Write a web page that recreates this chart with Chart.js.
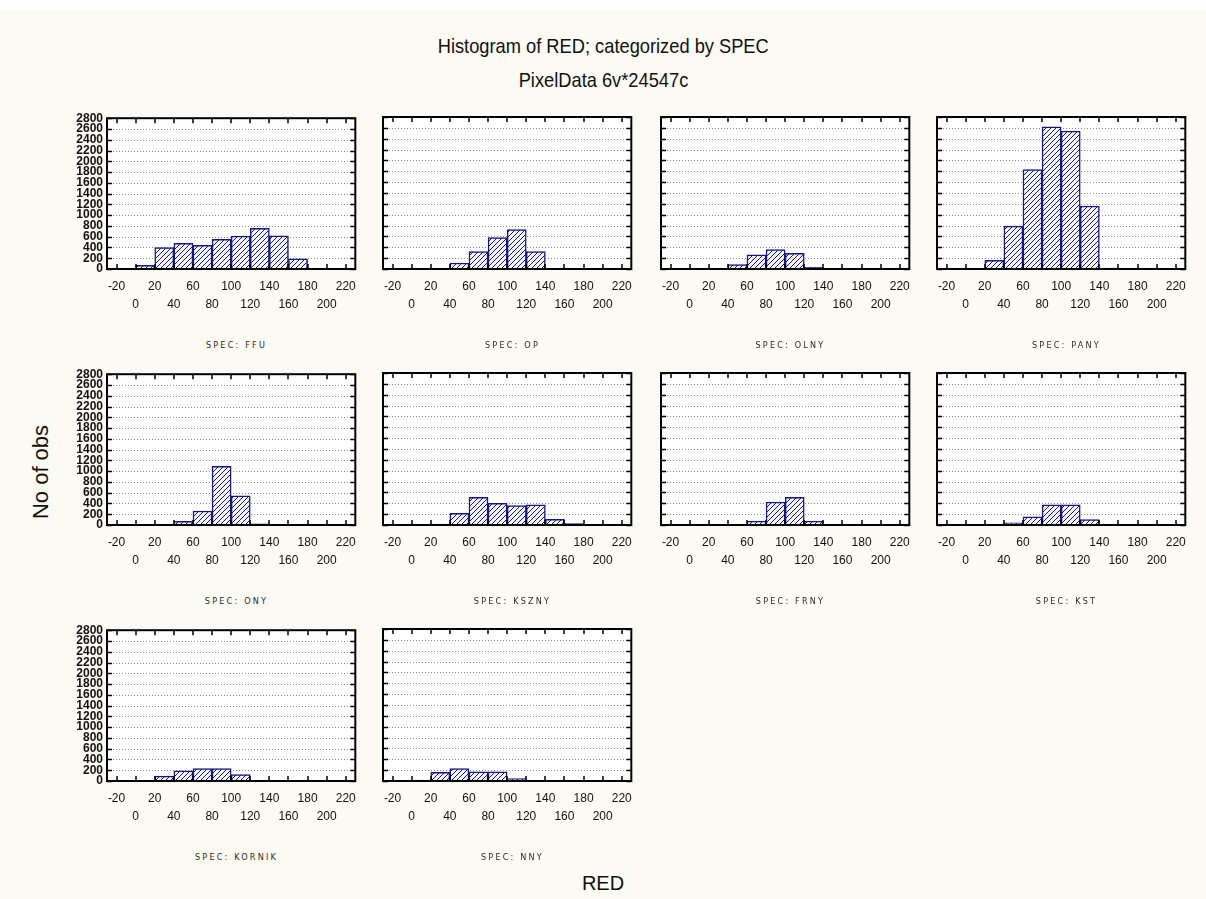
<!DOCTYPE html>
<html><head><meta charset="utf-8">
<script src="https://cdn.jsdelivr.net/npm/chart.js@4.4.0/dist/chart.umd.min.js"></script>
<style>
html,body{margin:0;padding:0;}
body{width:1206px;height:899px;background:#fbfaf3;position:relative;overflow:hidden;font-family:'Liberation Sans',Arial,sans-serif;}
.topband{position:absolute;left:0;top:0;width:1206px;height:10px;background:#ffffff;}
.t{position:absolute;left:0;width:1206px;text-align:center;color:#111;white-space:nowrap;}
.t span{display:inline-block;transform:scaleX(0.87);transform-origin:center;}
canvas{position:absolute;}
.lab{position:absolute;width:251px;text-align:center;font-family:'DejaVu Sans Condensed','DejaVu Sans',sans-serif;font-size:9px;letter-spacing:2.2px;color:#2a2a2a;}
.ytitle{position:absolute;left:41px;top:472px;transform:translate(-50%,-50%) rotate(-90deg);font-size:22px;color:#111;white-space:nowrap;}
</style></head><body>
<div class="topband"></div>
<div class="t" style="top:34px;font-size:21px;"><span>Histogram of RED; categorized by SPEC</span></div>
<div class="t" style="top:68px;font-size:21px;"><span>PixelData 6v*24547c</span></div>
<div class="ytitle">No of obs</div>
<div class="t" style="top:872px;font-size:20px;">RED</div>
<script>
// ---------------- data ----------------
const CATEGORIES = ['SPEC: FFU','SPEC: OP','SPEC: OLNY','SPEC: PANY','SPEC: ONY','SPEC: KSZNY','SPEC: FRNY','SPEC: KST','SPEC: KORNIK','SPEC: NNY'];
const BIN_CENTERS = [10, 30, 50, 70, 90, 110, 130, 150, 170, 190];   // bins of width 20 from 0 to 200
const FFU    = [70, 400, 475, 440, 550, 610, 755, 615, 190, 0];
const OP     = [0, 0, 110, 320, 580, 725, 320, 0, 0, 0];
const OLNY   = [0, 0, 80, 260, 360, 290, 30, 0, 0, 0];
const PANY   = [0, 160, 790, 1830, 2620, 2540, 1160, 15, 0, 0];
const ONY    = [0, 0, 70, 260, 1090, 540, 20, 0, 0, 0];
const KSZNY  = [0, 15, 215, 510, 400, 360, 370, 105, 25, 0];
const FRNY   = [0, 0, 0, 70, 420, 510, 70, 0, 0, 0];
const KST    = [0, 0, 40, 150, 370, 370, 100, 0, 0, 0];
const KORNIK = [0, 90, 190, 230, 230, 120, 0, 0, 0, 0];
const NNY    = [15, 160, 230, 170, 170, 45, 0, 0, 0, 0];
const SERIES = [FFU, OP, OLNY, PANY, ONY, KSZNY, FRNY, KST, KORNIK, NNY];
const X_TICKS = [-20, 0, 20, 40, 60, 80, 100, 120, 140, 160, 180, 200, 220];
const Y_TICKS = [0, 200, 400, 600, 800, 1000, 1200, 1400, 1600, 1800, 2000, 2200, 2400, 2600, 2800];
const X_RANGE = [-30, 230];
const Y_RANGE = [0, 2800];

// ---------------- layout ----------------
const COL_LEFT = [107, 383, 661, 937];
const ROW_TOP = [117, 373, 629];
const FRAME_W = 251, FRAME_H = 152;
const Y_AXIS_W = 50, PAD_TOP = 10, PAD_RIGHT = 6, X_AXIS_H = 56;
const NAVY = '#16167e';
const FONT = "'Liberation Sans Narrow','Liberation Sans',Arial,sans-serif";

function makePattern() {
  const s = 5;
  const c = document.createElement('canvas');
  c.width = s; c.height = s;
  const g = c.getContext('2d');
  g.fillStyle = '#f4f4fc';
  g.fillRect(0, 0, s, s);
  g.strokeStyle = NAVY;
  g.lineWidth = 1;
  g.beginPath();
  g.moveTo(-1, s + 1); g.lineTo(s + 1, -1);
  g.moveTo(-1, 1); g.lineTo(1, -1);
  g.moveTo(s - 1, s + 1); g.lineTo(s + 1, s - 1);
  g.stroke();
  return g.createPattern(c, 'repeat');
}

const framePlugin = {
  id: 'framePlugin',
  beforeDraw(chart) {
    const {ctx, chartArea: a} = chart;
    ctx.save();
    ctx.fillStyle = '#ffffff';
    ctx.fillRect(a.left, a.top, a.right - a.left, a.bottom - a.top);
    ctx.restore();
  },
  beforeDatasetsDraw(chart) {
    const {ctx, chartArea: a, scales: {y}} = chart;
    ctx.save();
    ctx.strokeStyle = '#8a8a8a';
    ctx.lineWidth = 1;
    ctx.setLineDash([1, 2]);
    Y_TICKS.forEach(v => {
      if (v === Y_RANGE[0] || v === Y_RANGE[1]) return;
      const py = Math.round(y.getPixelForValue(v)) + 0.5;
      ctx.beginPath(); ctx.moveTo(a.left, py); ctx.lineTo(a.right, py); ctx.stroke();
    });
    ctx.restore();
  },
  afterDraw(chart) {
    const {ctx, chartArea: a, scales: {x, y}} = chart;
    ctx.save();
    ctx.strokeStyle = '#000';
    ctx.lineWidth = 1.5;
    const tl = 5;
    X_TICKS.forEach(v => {
      const px = Math.round(x.getPixelForValue(v));
      ctx.beginPath();
      ctx.moveTo(px, a.bottom); ctx.lineTo(px, a.bottom - tl);
      ctx.moveTo(px, a.top); ctx.lineTo(px, a.top + tl);
      ctx.stroke();
    });
    Y_TICKS.forEach(v => {
      const py = Math.round(y.getPixelForValue(v)) + 0.5;
      ctx.beginPath();
      ctx.moveTo(a.left, py); ctx.lineTo(a.left + tl, py);
      ctx.moveTo(a.right, py); ctx.lineTo(a.right - tl, py);
      ctx.stroke();
    });
    ctx.lineWidth = 2;
    ctx.strokeRect(a.left, a.top, a.right - a.left, a.bottom - a.top);
    ctx.restore();
  }
};

const pattern = makePattern();

CATEGORIES.forEach((name, i) => {
  const row = Math.floor(i / 4), col = i % 4;
  const fl = COL_LEFT[col], ft = ROW_TOP[row];
  const cv = document.createElement('canvas');
  const W = Y_AXIS_W + FRAME_W + PAD_RIGHT, H = PAD_TOP + FRAME_H + X_AXIS_H;
  cv.width = W; cv.height = H;
  cv.style.left = (fl - Y_AXIS_W) + 'px';
  cv.style.top = (ft - PAD_TOP) + 'px';
  cv.style.width = W + 'px'; cv.style.height = H + 'px';
  document.body.appendChild(cv);

  const lab = document.createElement('div');
  lab.className = 'lab';
  lab.textContent = name;
  lab.style.left = (fl + 4) + 'px';
  lab.style.top = (ft + FRAME_H + 71) + 'px';
  document.body.appendChild(lab);

  const vals = SERIES[i];
  new Chart(cv, {
    type: 'bar',
    data: {
      datasets: [{
        data: BIN_CENTERS.map((c, k) => ({x: c, y: vals[k]})),
        backgroundColor: pattern,
        borderColor: NAVY,
        borderWidth: 1.5,
        barPercentage: 1,
        categoryPercentage: 1
      }]
    },
    options: {
      responsive: false,
      animation: false,
      devicePixelRatio: 1,
      layout: {padding: {top: PAD_TOP, right: PAD_RIGHT, left: 0, bottom: 0}},
      plugins: {legend: {display: false}, tooltip: {enabled: false}},
      scales: {
        x: {
          type: 'linear',
          min: X_RANGE[0], max: X_RANGE[1],
          offset: false,
          grid: {display: false, drawTicks: false},
          border: {display: false},
          afterBuildTicks: ax => { ax.ticks = X_TICKS.map(v => ({value: v})); },
          afterFit: ax => { ax.height = X_AXIS_H; },
          ticks: {
            autoSkip: false,
            maxRotation: 0,
            padding: 8,
            color: '#111',
            font: {family: FONT, size: 12, lineHeight: 1.55},
            callback: v => (((v + 20) / 20) % 2 === 0) ? [String(v), ''] : ['', String(v)]
          }
        },
        y: {
          min: Y_RANGE[0], max: Y_RANGE[1],
          grid: {display: false, drawTicks: false},
          border: {display: false},
          afterBuildTicks: ax => { ax.ticks = Y_TICKS.map(v => ({value: v})); },
          afterFit: ax => { ax.width = Y_AXIS_W; },
          ticks: {
            display: col === 0,
            autoSkip: false,
            padding: 4,
            color: '#111',
            font: {family: FONT, size: 12, weight: 'bold'},
            callback: v => String(v)
          }
        }
      }
    },
    plugins: [framePlugin]
  });
});
</script>
</body></html>
